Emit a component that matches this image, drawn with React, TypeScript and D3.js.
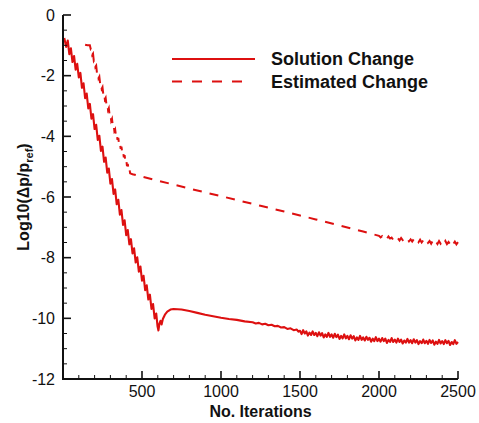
import React from "react";
import * as d3 from "d3";

// ---- data (iteration, log10 value) ----
const solidChange: [number, number][] = [
  [8, -0.76], [20, -1.05], [30, -0.84], [40, -1.29], [50, -1.1], [60, -1.55], [70, -1.35], [80, -1.8], [90, -1.61],
  [100, -2.06], [110, -1.91], [120, -2.4], [130, -2.25], [140, -2.74], [150, -2.59], [160, -3.08], [170, -2.93],
  [180, -3.42], [190, -3.27], [200, -3.76], [210, -3.62], [220, -4.12], [230, -3.98], [240, -4.48], [250, -4.34],
  [260, -4.84], [270, -4.7], [280, -5.2], [290, -5.06], [300, -5.56], [310, -5.41], [320, -5.9], [330, -5.75],
  [340, -6.24], [350, -6.09], [360, -6.58], [370, -6.43], [380, -6.92], [390, -6.77], [400, -7.26], [410, -7.09],
  [420, -7.56], [430, -7.39], [440, -7.86], [450, -7.69], [460, -8.16], [470, -7.99], [480, -8.46], [490, -8.29],
  [500, -8.76], [510, -8.6], [520, -9.07], [530, -8.91], [540, -9.38], [550, -9.22], [560, -9.69], [570, -9.53],
  [580, -10.0], [590, -9.84], [598, -10.25], [604, -10.4], [610, -10.18], [617, -10.08], [624, -10.2], [632, -10.02],
  [645, -9.88], [660, -9.78], [680, -9.71], [700, -9.69], [750, -9.71], [800, -9.76], [850, -9.82], [900, -9.88],
  [950, -9.93], [1000, -9.98], [1050, -10.02], [1100, -10.05], [1150, -10.1],
  [1200, -10.13], [1220, -10.17], [1240, -10.15], [1260, -10.2], [1280, -10.18], [1300, -10.23], [1320, -10.21],
  [1340, -10.26], [1360, -10.25], [1380, -10.3], [1400, -10.29], [1420, -10.35], [1440, -10.33], [1460, -10.39],
  [1480, -10.37], [1490, -10.44],
  [1500, -10.41], [1510, -10.52], [1520, -10.39], [1530, -10.5], [1540, -10.43], [1550, -10.57], [1560, -10.47],
  [1570, -10.55], [1580, -10.43], [1590, -10.55], [1600, -10.48], [1610, -10.59], [1620, -10.46], [1630, -10.57],
  [1640, -10.49], [1650, -10.63], [1660, -10.53], [1670, -10.61], [1680, -10.48], [1690, -10.61], [1700, -10.53],
  [1710, -10.64], [1720, -10.51], [1730, -10.62], [1740, -10.54], [1750, -10.68], [1760, -10.58], [1770, -10.66],
  [1780, -10.53], [1790, -10.66], [1800, -10.58], [1810, -10.69], [1820, -10.56], [1830, -10.67], [1840, -10.59],
  [1850, -10.73], [1860, -10.63], [1870, -10.71], [1880, -10.58], [1890, -10.71], [1900, -10.63], [1910, -10.73],
  [1920, -10.61], [1930, -10.71], [1940, -10.64], [1950, -10.77], [1960, -10.67], [1970, -10.75], [1980, -10.62],
  [1990, -10.75], [2000, -10.67], [2010, -10.77], [2020, -10.65], [2030, -10.75], [2040, -10.67], [2050, -10.81],
  [2060, -10.71], [2070, -10.78], [2080, -10.65], [2090, -10.78], [2100, -10.7], [2110, -10.8], [2120, -10.67],
  [2130, -10.78], [2140, -10.7], [2150, -10.83], [2160, -10.73], [2170, -10.8], [2180, -10.68], [2190, -10.8],
  [2200, -10.72], [2210, -10.82], [2220, -10.69], [2230, -10.8], [2240, -10.72], [2250, -10.85], [2260, -10.75],
  [2270, -10.82], [2280, -10.7], [2290, -10.82], [2300, -10.74], [2310, -10.84], [2320, -10.71], [2330, -10.81],
  [2340, -10.73], [2350, -10.87], [2360, -10.77], [2370, -10.84], [2380, -10.71], [2390, -10.83], [2400, -10.75],
  [2410, -10.85], [2420, -10.72], [2430, -10.82], [2440, -10.74], [2450, -10.88], [2460, -10.78], [2470, -10.85],
  [2480, -10.72], [2490, -10.84], [2500, -10.78],
];

const estimatedChange: [number, number][] = [
  [140, -0.98], [155, -1.0], [170, -1.0],
  [175, -1.11], [180, -1.07], [185, -1.31], [190, -1.27], [195, -1.51], [200, -1.47], [205, -1.71], [210, -1.67],
  [215, -1.91], [220, -1.86], [225, -2.08], [230, -2.03], [235, -2.26], [240, -2.21], [245, -2.43], [250, -2.38],
  [255, -2.61], [260, -2.55], [265, -2.78], [270, -2.73], [275, -2.95], [280, -2.9], [285, -3.13], [290, -3.07],
  [295, -3.3], [300, -3.25], [305, -3.48], [310, -3.42], [315, -3.65], [320, -3.6], [325, -3.82], [330, -3.77],
  [335, -3.98], [340, -3.91], [345, -4.12], [350, -4.05], [355, -4.26], [360, -4.2], [365, -4.41], [370, -4.34],
  [375, -4.55], [380, -4.48], [385, -4.69], [390, -4.62], [395, -4.83], [400, -4.76], [405, -4.98], [410, -4.91],
  [415, -5.12], [420, -5.05], [425, -5.22],
  [440, -5.25], [500, -5.33], [600, -5.46], [700, -5.59], [800, -5.72], [900, -5.85],
  [1000, -5.97], [1100, -6.1], [1250, -6.29], [1400, -6.48], [1500, -6.61], [1600, -6.74], [1750, -6.94],
  [1900, -7.14], [2000, -7.28],
  [2010, -7.33], [2020, -7.29], [2030, -7.36], [2040, -7.31], [2050, -7.38], [2060, -7.3], [2070, -7.37],
  [2080, -7.34], [2090, -7.41], [2100, -7.33], [2110, -7.4], [2120, -7.36], [2130, -7.43], [2140, -7.35],
  [2150, -7.42], [2160, -7.38], [2170, -7.44], [2180, -7.37], [2190, -7.46], [2200, -7.4], [2210, -7.47],
  [2220, -7.39], [2230, -7.48], [2240, -7.42], [2250, -7.49], [2260, -7.41], [2270, -7.5], [2280, -7.43],
  [2290, -7.52], [2300, -7.44], [2310, -7.51], [2320, -7.45], [2330, -7.54], [2340, -7.44], [2350, -7.53],
  [2360, -7.46], [2370, -7.55], [2380, -7.45], [2390, -7.54], [2400, -7.47], [2410, -7.56], [2420, -7.45],
  [2430, -7.55], [2440, -7.48], [2450, -7.56], [2460, -7.46], [2470, -7.55], [2480, -7.47], [2490, -7.56],
  [2500, -7.49],
];

const xMajorTicks = [500, 1000, 1500, 2000, 2500];
const yMajorTicks = [0, -2, -4, -6, -8, -10, -12];
const legendLabels = ["Solution Change", "Estimated Change"];

const W = 479;
const H = 423;
const RED = "#dd1010";
const FONT = "'Liberation Sans', Arial, sans-serif";

export default function App() {
  const x = d3.scaleLinear().domain([0, 2500]).range([63, 458]);
  const y = d3.scaleLinear().domain([-12, 0]).range([379, 15]);
  const line = d3
    .line<[number, number]>()
    .x((d) => x(d[0]))
    .y((d) => y(d[1]));

  const xMinor = d3.range(100, 2500, 100).filter((v) => v % 500 !== 0);
  const yMinor = d3.range(-11.5, 0, 0.5).filter((v) => v % 2 !== 0);

  const [x0, x1] = x.range();
  const [yb, yt] = y.range();

  return (
    <svg
      width={W}
      height={H}
      style={{ position: "absolute", left: 0, top: 0, background: "#fff" }}
    >
      <rect width={W} height={H} fill="#fff" />
      {/* series */}
      <path d={line(estimatedChange) || ""} fill="none" stroke={RED} strokeWidth={2} strokeDasharray="9,8" />
      <path d={line(solidChange) || ""} fill="none" stroke={RED} strokeWidth={2.1} strokeLinejoin="round" />

      {/* axes */}
      <g stroke="#111" fill="none">
        <line x1={x0} y1={yt} x2={x0} y2={yb + 1} strokeWidth={2} />
        <line x1={x0 - 1} y1={yb} x2={x1} y2={yb} strokeWidth={2} />
        {xMajorTicks.map((t) => (
          <line key={"xM" + t} x1={x(t)} x2={x(t)} y1={yb} y2={yb - 8} strokeWidth={1.6} />
        ))}
        {xMinor.map((t) => (
          <line key={"xm" + t} x1={x(t)} x2={x(t)} y1={yb} y2={yb - 4} strokeWidth={1} />
        ))}
        {yMajorTicks.map((t) => (
          <line key={"yM" + t} x1={x0} x2={x0 + 8} y1={y(t)} y2={y(t)} strokeWidth={1.6} />
        ))}
        {yMinor.map((t) => (
          <line key={"ym" + t} x1={x0} x2={x0 + 4} y1={y(t)} y2={y(t)} strokeWidth={1} />
        ))}
      </g>

      {/* tick labels */}
      <g fontFamily={FONT} fontSize={16} fill="#111">
        {xMajorTicks.map((t) => (
          <text key={"xl" + t} x={x(t)} y={397} textAnchor="middle">
            {t}
          </text>
        ))}
        {yMajorTicks.map((t) => (
          <text key={"yl" + t} x={55} y={y(t)} dy="0.36em" textAnchor="end">
            {t === 0 ? "0" : "-" + Math.abs(t)}
          </text>
        ))}
      </g>

      {/* axis titles */}
      <text x={(x0 + x1) / 2} y={417} textAnchor="middle" fontFamily={FONT} fontSize={16} fontWeight="bold" fill="#111">
        No. Iterations
      </text>
      <text
        transform={`translate(29,${(yb + yt) / 2}) rotate(-90)`}
        textAnchor="middle"
        fontFamily={FONT}
        fontSize={16}
        fontWeight="bold"
        fill="#111"
      >
        Log10(Δp/p
        <tspan fontSize={11} dy={4}>ref</tspan>
        <tspan dy={-4}>)</tspan>
      </text>

      {/* legend */}
      <g>
        <line x1={172} x2={255} y1={59} y2={59} stroke={RED} strokeWidth={2} />
        <line x1={172} x2={250} y1={81.5} y2={81.5} stroke={RED} strokeWidth={2} strokeDasharray="10,10" />
        <text x={271} y={65} fontFamily={FONT} fontSize={18} fontWeight="bold" fill="#111">
          {legendLabels[0]}
        </text>
        <text x={271} y={87.5} fontFamily={FONT} fontSize={18} fontWeight="bold" fill="#111">
          {legendLabels[1]}
        </text>
      </g>
    </svg>
  );
}
